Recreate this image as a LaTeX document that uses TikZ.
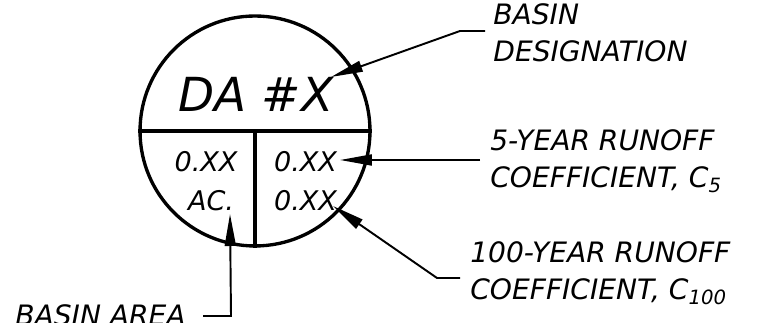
\documentclass[tikz,border=0pt]{standalone}
\usepackage{fontspec}
\setmainfont{DejaVu Sans}
\usetikzlibrary{arrows.meta, positioning}

\begin{document}
\begin{tikzpicture}[
  x=0.02cm, y=-0.02cm,
  bordo/.style={draw=black, line width=1.9pt},
  richiamo/.style={draw=black, line width=1.1pt},
  freccia/.style={richiamo, -{Triangle[length=0.64cm, width=0.22cm]}},
  titolo/.style={inner sep=0pt, anchor=base, font=\itshape\fontsize{26.7}{32}\selectfont},
  valore/.style={inner sep=0pt, anchor=base, font=\itshape\fontsize{15.4}{19}\selectfont},
  etichetta/.style={inner sep=0pt, align=left, anchor=base west, font=\itshape\fontsize{16}{21.6}\selectfont}
]
\useasboundingbox (0,0) rectangle (760,323);

% Cerchio del bacino
\node[bordo, circle, minimum size=4.6cm, inner sep=0pt] (bacino) at (255,131) {};
\draw[bordo] (bacino.west) -- (bacino.east);
\draw[bordo] (bacino.center) -- (bacino.south);

% Valori
\node[titolo] (sigla) at (256,112) {DA \#X};
\node[valore] (area) at (206,172) {0.XX};
\node[valore] (unita) at (211,211) {AC.};
\node[valore] (cinque) at (305.5,172) {0.XX};
\node[valore] (cento) at (305.5,211) {0.XX};

% Etichette (base = ultima riga)
\node[etichetta] (designazione) at (493,62) {BASIN\\DESIGNATION};
\node[etichetta] (coeff5) at (490,188) {5-YEAR RUNOFF\\COEFFICIENT, C\textsubscript{5}};
\node[etichetta] (coeff100) at (470,300) {100-YEAR RUNOFF\\COEFFICIENT, C\textsubscript{100}};
\node[etichetta] (superficie) at (15,326) {BASIN AREA};

% Richiami
\coordinate (punta1) at (331,77);
\coordinate (gomito1) at (460,31);
\coordinate (fine1) at (485,31);
\coordinate (punta2) at (340,160);
\coordinate (fine2) at (480,160);
\coordinate (punta3) at (333,206);
\coordinate (gomito3) at (437,278);
\coordinate (fine3) at (460,278);
\coordinate (punta4) at (230,214);
\coordinate (gomito4) at (231,316);
\coordinate (fine4) at (203,316);

\draw[freccia] (fine1) -- (gomito1) -- (punta1);
\draw[freccia] (fine2) -- (punta2);
\draw[freccia] (fine3) -- (gomito3) -- (punta3);
\draw[freccia] (fine4) -- (gomito4) -- (punta4);

\end{tikzpicture}
\end{document}
